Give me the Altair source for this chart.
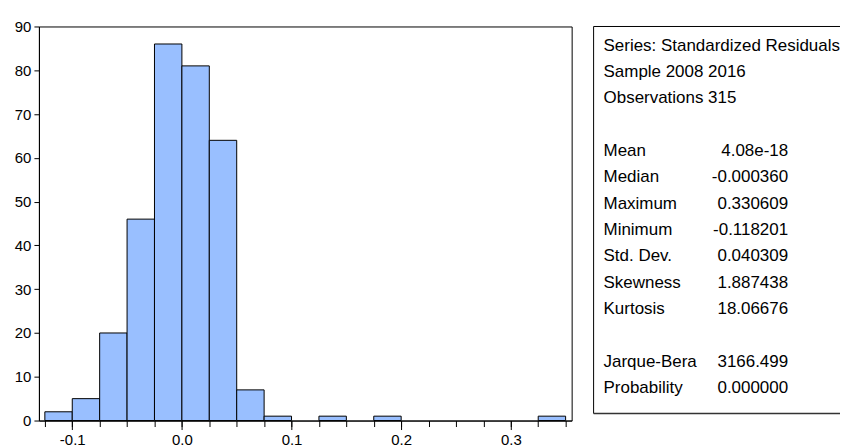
import altair as alt
import pandas as pd

# Histogram bins (width 0.025) and counts
bin_start = [-0.125, -0.100, -0.075, -0.050, -0.025, 0.000, 0.025, 0.050, 0.075, 0.100,
             0.125, 0.150, 0.175, 0.200, 0.225, 0.250, 0.275, 0.300, 0.325]
bin_end = [-0.100, -0.075, -0.050, -0.025, 0.000, 0.025, 0.050, 0.075, 0.100, 0.125,
           0.150, 0.175, 0.200, 0.225, 0.250, 0.275, 0.300, 0.325, 0.350]
counts = [2, 5, 20, 46, 86, 81, 64, 7, 1, 0, 1, 0, 1, 0, 0, 0, 0, 0, 1]

x_minor_ticks = [-0.125, -0.100, -0.075, -0.050, -0.025, 0.000, 0.025, 0.050, 0.075, 0.100,
                 0.125, 0.150, 0.175, 0.200, 0.225, 0.250, 0.275, 0.300, 0.325, 0.350]
x_major_ticks = [-0.1, 0.0, 0.1, 0.2, 0.3]
y_ticks = [0, 10, 20, 30, 40, 50, 60, 70, 80, 90]

# Statistics panel
stat_rows = [0, 1, 2, 4, 5, 6, 7, 8, 9, 10, 12, 13]
stat_labels = ["Series: Standardized Residuals", "Sample 2008 2016", "Observations 315",
               "Mean", "Median", "Maximum", "Minimum", "Std. Dev.", "Skewness", "Kurtosis",
               "Jarque-Bera", "Probability"]
stat_values = ["", "", "", "4.08e-18", "-0.000360", "0.330609", "-0.118201", "0.040309",
               "1.887438", "18.06676", "3166.499", "0.000000"]

FONT = "Liberation Sans"

hist = pd.DataFrame({"start": bin_start, "end": bin_end, "count": counts})
xscale = alt.Scale(domain=[-0.1304, 0.3555], nice=False, zero=False)
yscale = alt.Scale(domain=[0, 90], nice=False)

bars = alt.Chart(hist).transform_filter("datum.count > 0").mark_rect(
    fill="#99BFFF", stroke="black", strokeWidth=1
).encode(
    x=alt.X("start:Q", scale=xscale,
            axis=alt.Axis(values=x_minor_ticks, labels=False, tickSize=6, orient="bottom",
                          title=None, grid=False, domainColor="black", tickColor="black")),
    x2="end:Q",
    y=alt.Y("count:Q", scale=yscale,
            axis=alt.Axis(values=y_ticks, tickSize=5, labelPadding=3, title=None, grid=False,
                          domainColor="black", tickColor="black", labelColor="black",
                          labelFontSize=15, labelFont=FONT)),
    y2=alt.datum(0),
)

major = alt.Chart(hist).mark_point(opacity=0).encode(
    x=alt.X("start:Q", scale=xscale,
            axis=alt.Axis(values=x_major_ticks, tickSize=9, orient="bottom",
                          labelExpr="replace(format(datum.value, '.1f'), '\u2212', '-')",
                          title=None, grid=False, domain=False, tickColor="black",
                          labelColor="black", labelFontSize=15, labelFont=FONT,
                          labelPadding=3)),
)

hist_chart = alt.layer(bars, major).resolve_axis(x="independent").properties(
    width=534, height=395
)

stats = pd.DataFrame({"row": stat_rows, "label": stat_labels, "value": stat_values})
row_scale = alt.Scale(domain=[-0.92, 13.78], reverse=True)

labels = alt.Chart(stats).mark_text(align="left", baseline="alphabetic", fontSize=17,
                                    font=FONT, color="black").encode(
    x=alt.value(10),
    y=alt.Y("row:Q", scale=row_scale, axis=None),
    text="label:N",
)
values = alt.Chart(stats).mark_text(align="right", baseline="alphabetic", fontSize=17,
                                    font=FONT, color="black").encode(
    x=alt.value(195),
    y=alt.Y("row:Q", scale=row_scale, axis=None),
    text="value:N",
)

one = pd.DataFrame({"k": [0]})
box_top = alt.Chart(one).mark_rule(color="black", strokeWidth=1).encode(
    x=alt.value(0), x2=alt.value(247), y=alt.value(0))
box_left = alt.Chart(one).mark_rule(color="black", strokeWidth=1).encode(
    x=alt.value(0), y=alt.value(0), y2=alt.value(388))
box_bottom = alt.Chart(one).mark_rule(color="#333333", strokeWidth=1.5).encode(
    x=alt.value(0), x2=alt.value(247), y=alt.value(388))

panel = alt.layer(box_top, box_left, box_bottom, labels, values).properties(
    width=247, height=388, view=alt.ViewBackground(stroke=None)
)

chart = alt.hconcat(hist_chart, panel, spacing=22, bounds="flush").properties(
    padding={"left": 5, "top": 10, "right": 0, "bottom": 0}
).configure(font=FONT).configure_view(stroke="black", strokeWidth=1)

chart.save("out.html", embed_options={"renderer": "svg", "actions": False})
